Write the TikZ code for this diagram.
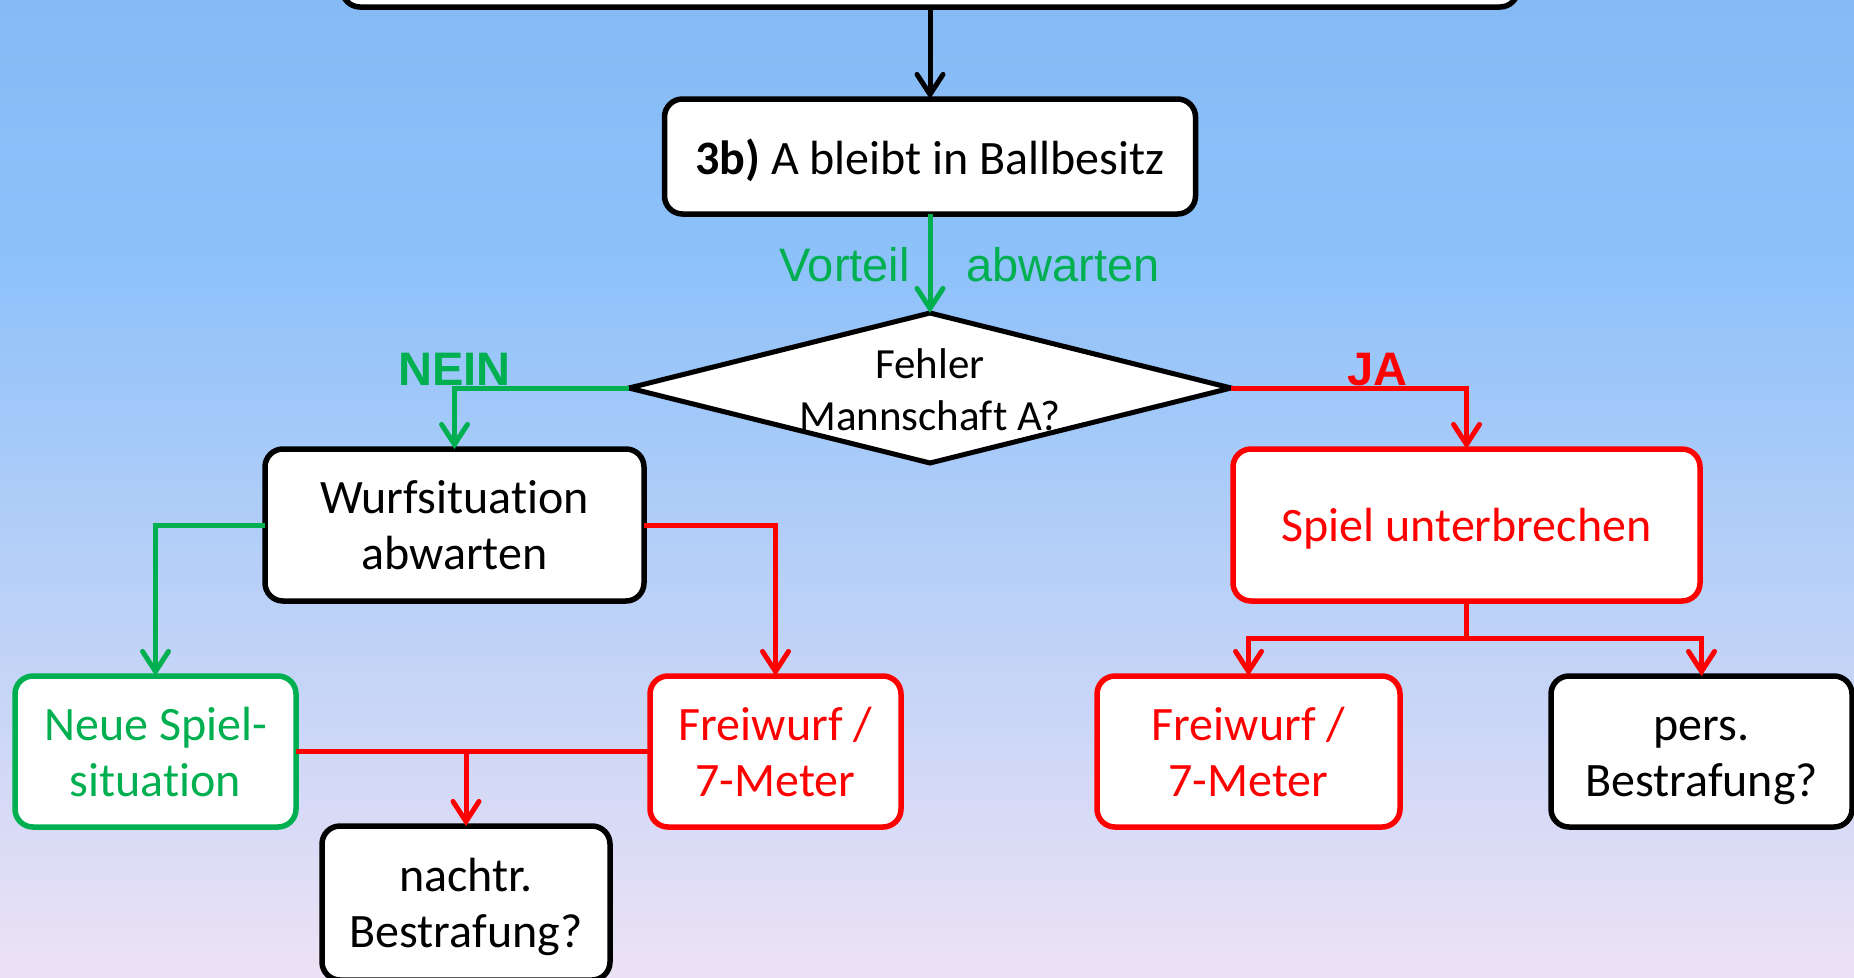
\documentclass[tikz,border=0pt]{standalone}
\usepackage{fontspec}
\setmainfont[Ligatures={NoCommon,TeX}]{Carlito}
\newfontfamily\arialf{Liberation Sans}
\usetikzlibrary{arrows.meta,shapes.geometric}
\definecolor{pgreen}{HTML}{00B050}
\definecolor{pred}{HTML}{FF0000}
\definecolor{bgtop}{RGB}{134,186,244}
\definecolor{bgmid}{RGB}{140,193,250}
\definecolor{bgbot}{RGB}{237,226,245}
\newcommand\firstln{\vphantom{h}}
\newcommand\lastln[1]{\raisebox{0pt}[\height][0pt]{#1}}
\begin{document}
\begin{tikzpicture}[x=1pt,y=-1pt,
  box/.style={draw, fill=white, rounded corners=18pt, line width=5.5pt, inner sep=0pt, outer sep=0pt, align=center, font=\fontsize{48}{56}\selectfont},
  conn/.style={line width=5pt},
  arr/.style={conn, -{Straight Barb[length=20pt,width=26pt,line cap=round]}},
  lab/.style={inner sep=0pt, font=\arialf\fontsize{47}{55}\selectfont},
  blab/.style={inner sep=0pt, font=\arialf\bfseries\fontsize{47}{56}\selectfont}]
\useasboundingbox (0,0) rectangle (1854,977);
\clip (0,0) rectangle (1854,977);
\shade[top color=bgtop, bottom color=bgmid] (0,0) rectangle (1854,250);
\shade[top color=bgmid, bottom color=bgbot] (0,249) rectangle (1854,977);

% nodes
\node[box, minimum width=1176pt, minimum height=120pt] (top) at (930,-53) {};
\node[box, minimum width=531pt, minimum height=115pt] (b3) at (930,156.5) {\lastln{\textbf{3b)} A bleibt in Ballbesitz}};
\node[diamond, draw, fill=white, line width=5pt, minimum width=602pt, minimum height=150pt, inner sep=0pt, outer sep=0pt] (d) at (930,388) {};
\node[inner sep=0pt, align=center, font=\fontsize{43}{52}\selectfont] (dt) at (930,390) {Fehler\\Mannschaft A?};
\node[box, minimum width=379pt, minimum height=152pt] (wurf) at (454.5,525) {Wurfsituation\\abwarten};
\node[box, draw=pred, text=pred, minimum width=467pt, minimum height=152pt] (spiel) at (1466.5,525) {\lastln{Spiel unterbrechen}};
\node[box, draw=pgreen, text=pgreen, minimum width=281pt, minimum height=151pt] (neue) at (155.5,751.5) {Neue Spiel-\\situation};
\node[box, draw=pred, text=pred, minimum width=251pt, minimum height=151pt] (frei1) at (775.5,751.5) {Freiwurf /\\7-Meter};
\node[box, draw=pred, text=pred, minimum width=303pt, minimum height=151pt] (frei2) at (1248.5,751.5) {Freiwurf /\\7-Meter};
\node[box, minimum width=301pt, minimum height=151pt] (pers) at (1701.5,751.5) {\firstln pers.\\\lastln{Bestrafung?}};
\node[box, minimum width=288pt, minimum height=154pt] (nachtr) at (466,903) {nachtr.\\\lastln{Bestrafung?}};
\coordinate (sp) at (1466.5,638);

% connectors
\draw[arr] (top.south) -- (b3.north);
\draw[arr, pgreen] (b3.south) -- (d.north);
\draw[arr, pgreen] (d.west) -| (wurf.north);
\draw[arr, pred] (d.east) -| (spiel.north);
\draw[arr, pgreen] (wurf.west) -| (neue.north);
\draw[arr, pred] (wurf.east) -| (frei1.north);
\draw[conn, pred] (neue.east) -- (frei1.west);
\draw[arr, pred] (neue.east -| nachtr.north) -- (nachtr.north);
\draw[conn, pred] (spiel.south) -- (sp);
\draw[arr, pred] (sp) -| (frei2.north);
\draw[arr, pred] (sp) -| (pers.north);

% labels
\node[lab, text=pgreen, anchor=base east] (vl) at (910,281) {Vorteil};
\node[lab, text=pgreen, anchor=base west] (vr) at (966,281) {abwarten};
\node[blab, text=pgreen, anchor=base west] (nein) at (398,385) {NEIN};
\node[blab, text=pred, anchor=base west] (ja) at (1347,385) {JA};
\end{tikzpicture}
\end{document}
